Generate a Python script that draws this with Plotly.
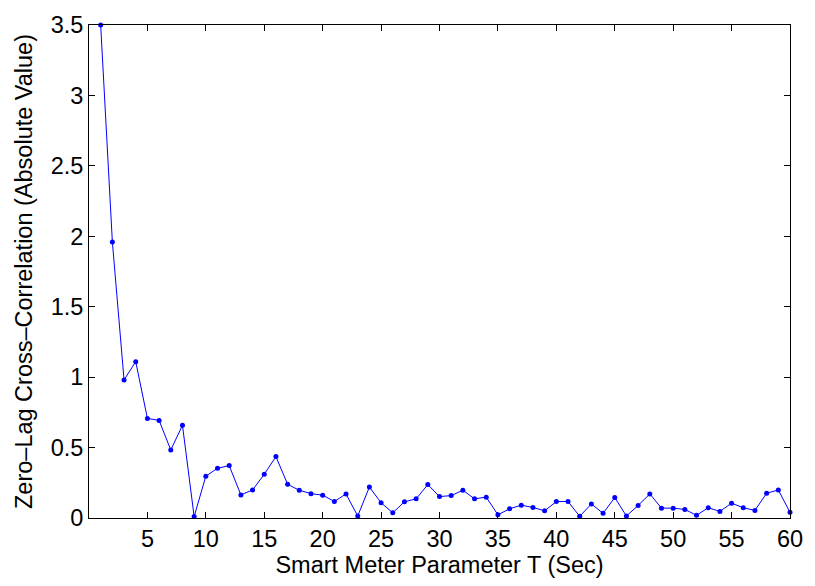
import plotly.graph_objects as go

T = list(range(1, 61))
corr = [3.5, 1.96, 0.98, 1.11, 0.707, 0.693, 0.483, 0.658, 0.01, 0.297,
        0.353, 0.372, 0.164, 0.199, 0.311, 0.436, 0.239, 0.197, 0.173, 0.162,
        0.117, 0.171, 0.014, 0.22, 0.108, 0.037, 0.115, 0.136, 0.237, 0.152,
        0.159, 0.197, 0.136, 0.148, 0.023, 0.065, 0.091, 0.075, 0.051, 0.117,
        0.117, 0.012, 0.10, 0.033, 0.145, 0.014, 0.089, 0.171, 0.07, 0.07,
        0.061, 0.019, 0.073, 0.047, 0.105, 0.073, 0.054, 0.176, 0.199, 0.04]
xticks = [5, 10, 15, 20, 25, 30, 35, 40, 45, 50, 55, 60]
yticks = [0, 0.5, 1, 1.5, 2, 2.5, 3, 3.5]

fig = go.Figure(go.Scatter(
    x=T, y=corr, mode="lines+markers",
    line=dict(color="#0000ff", width=1),
    marker=dict(color="#0000ff", size=5),
    cliponaxis=False,
))

font = dict(family="Liberation Sans, Arial, sans-serif", size=23.5, color="black")
axis_common = dict(
    showgrid=False, zeroline=False, showline=True, linecolor="black", linewidth=1,
    mirror="ticks", ticks="inside", ticklen=6, tickcolor="black", tickwidth=1,
    tickfont=font,
)
fig.update_layout(
    width=815, height=586,
    margin=dict(l=89, r=18, t=20, b=68),
    paper_bgcolor="white", plot_bgcolor="white",
    showlegend=False,
    xaxis=dict(range=[0, 60], tickvals=xticks, ticktext=[str(v) for v in xticks],
               title=dict(text="Smart Meter Parameter T (Sec)", font=font, standoff=0),
               **axis_common),
    yaxis=dict(range=[0, 3.5], tickvals=yticks, ticktext=[f"{v:g}" for v in yticks],
               title=dict(text="Zero\u2013Lag Cross\u2013Correlation (Absolute Value)", font=font, standoff=11),
               **axis_common),
)
fig.write_html("out.html")
